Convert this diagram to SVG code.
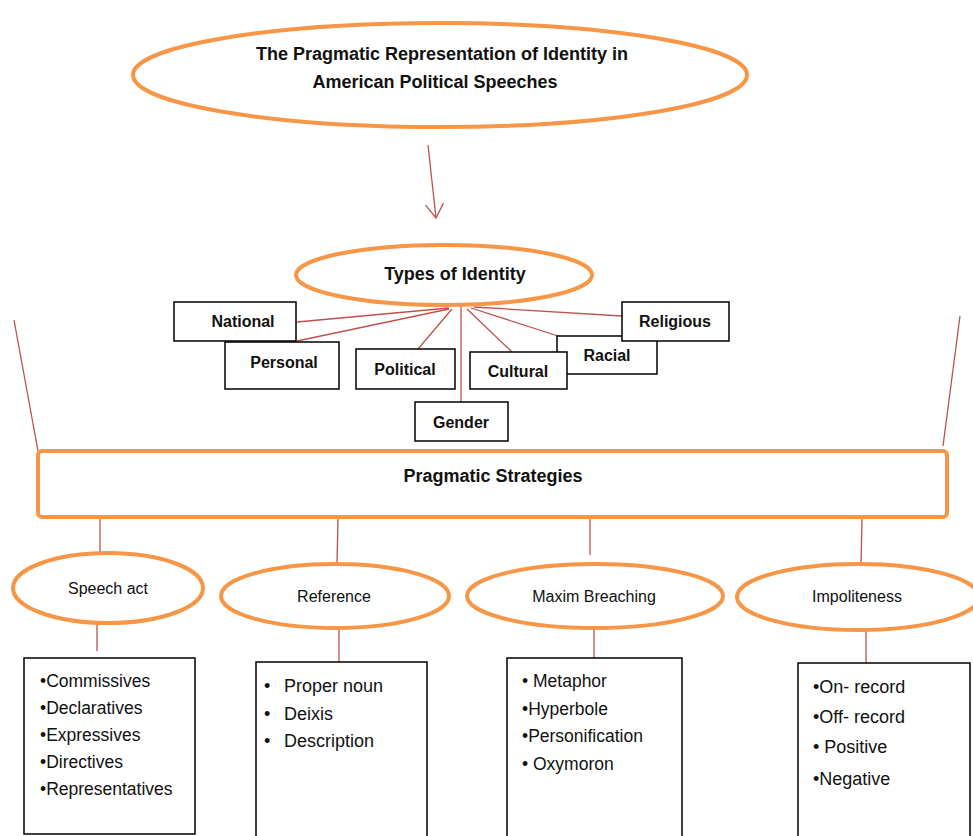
<svg xmlns="http://www.w3.org/2000/svg" width="973" height="836" viewBox="0 0 973 836">
<defs>
<style>
.ell{fill:#fff;stroke:#F79646;stroke-width:4}
.box{fill:#fff;stroke:#000;stroke-width:1.5}
.con{stroke:#C0504D;stroke-width:1.3;fill:none}
.t{font-family:"Liberation Sans",Arial,sans-serif;fill:#111}
.b{font-weight:bold}
.c{text-anchor:middle}
.lbl{font-size:16px}
.el{font-size:16px}
.li{font-size:17.5px}
.lb{font-size:18px}
</style>
<marker id="arr" viewBox="0 0 20 20" refX="18" refY="10" markerWidth="20" markerHeight="20" markerUnits="userSpaceOnUse" orient="auto">
<path d="M4 1 L18 10 L4 19" fill="none" stroke="#C0504D" stroke-width="1.3"/>
</marker>
</defs>
<rect width="973" height="836" fill="#fff"/>

<g id="connectors">
<line class="con" x1="428" y1="145" x2="436" y2="218" marker-end="url(#arr)"/>
<line class="con" x1="449" y1="308" x2="297" y2="322"/>
<line class="con" x1="449" y1="309" x2="297" y2="341"/>
<line class="con" x1="452" y1="309" x2="418" y2="349"/>
<line class="con" x1="461" y1="306" x2="461" y2="402"/>
<line class="con" x1="467" y1="309" x2="512" y2="352"/>
<line class="con" x1="471" y1="308" x2="558" y2="336"/>
<line class="con" x1="474" y1="307" x2="622" y2="316"/>
<line class="con" x1="14" y1="320" x2="38" y2="451"/>
<line class="con" x1="960" y1="316" x2="943" y2="446"/>
<line class="con" x1="100" y1="519" x2="100" y2="553"/>
<line class="con" x1="97" y1="624" x2="97" y2="651"/>
<line class="con" x1="338" y1="519" x2="337" y2="564"/>
<line class="con" x1="339" y1="629" x2="339" y2="662"/>
<line class="con" x1="590" y1="519" x2="590" y2="555"/>
<line class="con" x1="594" y1="628" x2="594" y2="658"/>
<line class="con" x1="862" y1="519" x2="861" y2="564"/>
<line class="con" x1="866" y1="630" x2="866" y2="663"/>
</g>

<g id="title">
<ellipse class="ell" cx="440" cy="75" rx="307" ry="52"/>
<text class="t b c" x="442" y="60" font-size="18">The Pragmatic Representation of Identity in</text>
<text class="t b c" x="435" y="88" font-size="18">American Political Speeches</text>
</g>

<g id="types">
<ellipse class="ell" cx="444" cy="275" rx="148" ry="30"/>
<text class="t b c" x="455" y="280" font-size="18">Types of Identity</text>
</g>

<g id="national"><rect class="box" x="174" y="302" width="122" height="39"/><text class="t b c lbl" x="243" y="327">National</text></g>
<g id="personal"><rect class="box" x="225" y="342" width="114" height="47"/><text class="t b c lbl" x="284" y="368">Personal</text></g>
<g id="political"><rect class="box" x="356" y="349" width="99" height="40"/><text class="t b c lbl" x="405" y="375">Political</text></g>
<g id="racial"><rect class="box" x="557" y="336" width="100" height="38"/><text class="t b c lbl" x="607" y="361">Racial</text></g>
<g id="cultural"><rect class="box" x="470" y="352" width="97" height="37"/><text class="t b c lbl" x="518" y="377">Cultural</text></g>
<g id="religious"><rect class="box" x="622" y="302" width="107" height="39"/><text class="t b c lbl" x="675" y="327">Religious</text></g>
<g id="gender"><rect class="box" x="415" y="402" width="93" height="39"/><text class="t b c lbl" x="461" y="428">Gender</text></g>

<g id="strategies">
<rect x="38" y="451" width="909" height="66" rx="4" fill="#fff" stroke="#F79646" stroke-width="4"/>
<text class="t b c" x="493" y="482" font-size="18">Pragmatic Strategies</text>
</g>

<g id="speech-act">
<ellipse class="ell" cx="108" cy="588" rx="95" ry="35"/>
<text class="t c el" x="108" y="594">Speech act</text>
</g>
<g id="speech-act-list">
<rect class="box" x="24" y="658" width="171" height="176"/>
<text class="t li" x="40" y="687">•Commissives</text>
<text class="t li" x="40" y="714">•Declaratives</text>
<text class="t li" x="40" y="741">•Expressives</text>
<text class="t li" x="40" y="768">•Directives</text>
<text class="t li" x="40" y="795">•Representatives</text>
</g>

<g id="reference">
<ellipse class="ell" cx="335" cy="596" rx="114" ry="32"/>
<text class="t c el" x="334" y="602">Reference</text>
</g>
<g id="reference-list">
<rect class="box" x="256" y="662" width="171" height="176"/>
<text class="t lb" x="264" y="692">•</text><text class="t lb" x="284" y="692">Proper noun</text>
<text class="t lb" x="264" y="720">•</text><text class="t lb" x="284" y="720">Deixis</text>
<text class="t lb" x="264" y="747">•</text><text class="t lb" x="284" y="747">Description</text>
</g>

<g id="maxim">
<ellipse class="ell" cx="595" cy="596" rx="128" ry="32"/>
<text class="t c el" x="594" y="602">Maxim Breaching</text>
</g>
<g id="maxim-list">
<rect class="box" x="507" y="658" width="175" height="180"/>
<text class="t li" x="522" y="687">• Metaphor</text>
<text class="t li" x="522" y="715">•Hyperbole</text>
<text class="t li" x="522" y="742">•Personification</text>
<text class="t li" x="522" y="770">• Oxymoron</text>
</g>

<g id="impoliteness">
<ellipse class="ell" cx="858" cy="597" rx="121" ry="33"/>
<text class="t c el" x="857" y="602">Impoliteness</text>
</g>
<g id="impoliteness-list">
<rect class="box" x="798" y="663" width="172" height="176"/>
<text class="t lb" x="813" y="693">•On- record</text>
<text class="t lb" x="813" y="723">•Off- record</text>
<text class="t lb" x="813" y="753">• Positive</text>
<text class="t lb" x="813" y="785">•Negative</text>
</g>
</svg>
